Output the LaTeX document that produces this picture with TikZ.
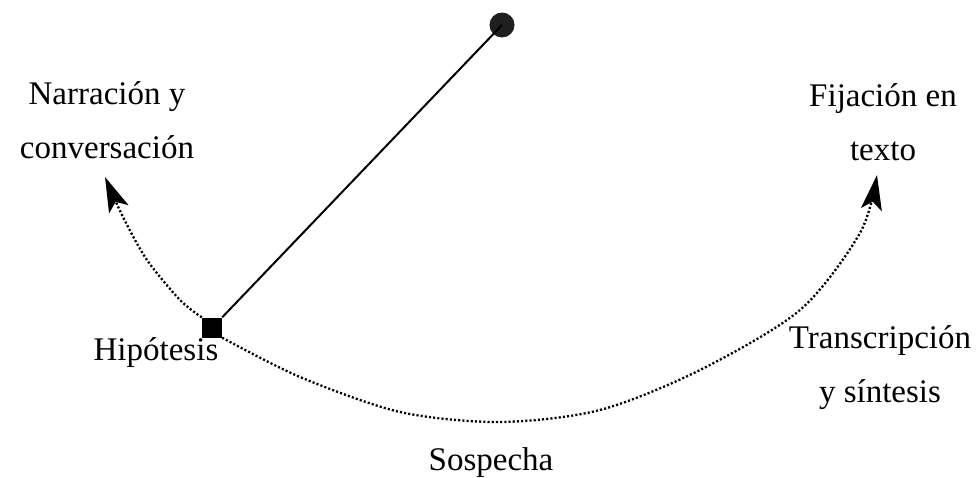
\documentclass[tikz,border=0pt]{standalone}
\usepackage{fontspec}
\setmainfont{Liberation Serif}
\usetikzlibrary{arrows.meta}
\begin{document}
\begin{tikzpicture}[x=1pt,y=-1pt,
  lbl/.style={font=\fontsize{33}{54}\selectfont, align=center, anchor=base, inner sep=0pt},
  flow/.style={line width=2.3pt, dash pattern=on 2.1pt off 2.1pt,
    -{Stealth[length=35pt,width=21pt,inset=8pt]}},
  link/.style={line width=2pt}]
\useasboundingbox (0,0) rectangle (978,477);
\node[fill=black, minimum size=20pt, inner sep=0pt] (sq) at (212,327.5) {};
\node[circle, fill=black!88, minimum size=25pt, inner sep=0pt] (dot) at (502,25) {};
\draw[link] (sq.north east) -- (dot.center);
\coordinate (tipL) at (105,177);
\coordinate (tipR) at (877,175);
\draw[flow] plot[smooth] coordinates {(sq.north west) (180,300) (147,260) (123,217) (tipL)};
\draw[flow] plot[smooth] coordinates {(sq.south east) (300,377) (400,412) (500,422) (600,410) (700,370) (800,310) (860,233) (tipR)};
\node[lbl] (narr) at (107,158) {Narración y\\conversación};
\node[lbl] (fij) at (883,160) {Fijación en\\texto};
\node[lbl] (hip) at (156,360) {Hipótesis};
\node[lbl] (trans) at (880,402) {Transcripción\\y síntesis};
\node[lbl] (sosp) at (491,470) {Sospecha};
\end{tikzpicture}
\end{document}
